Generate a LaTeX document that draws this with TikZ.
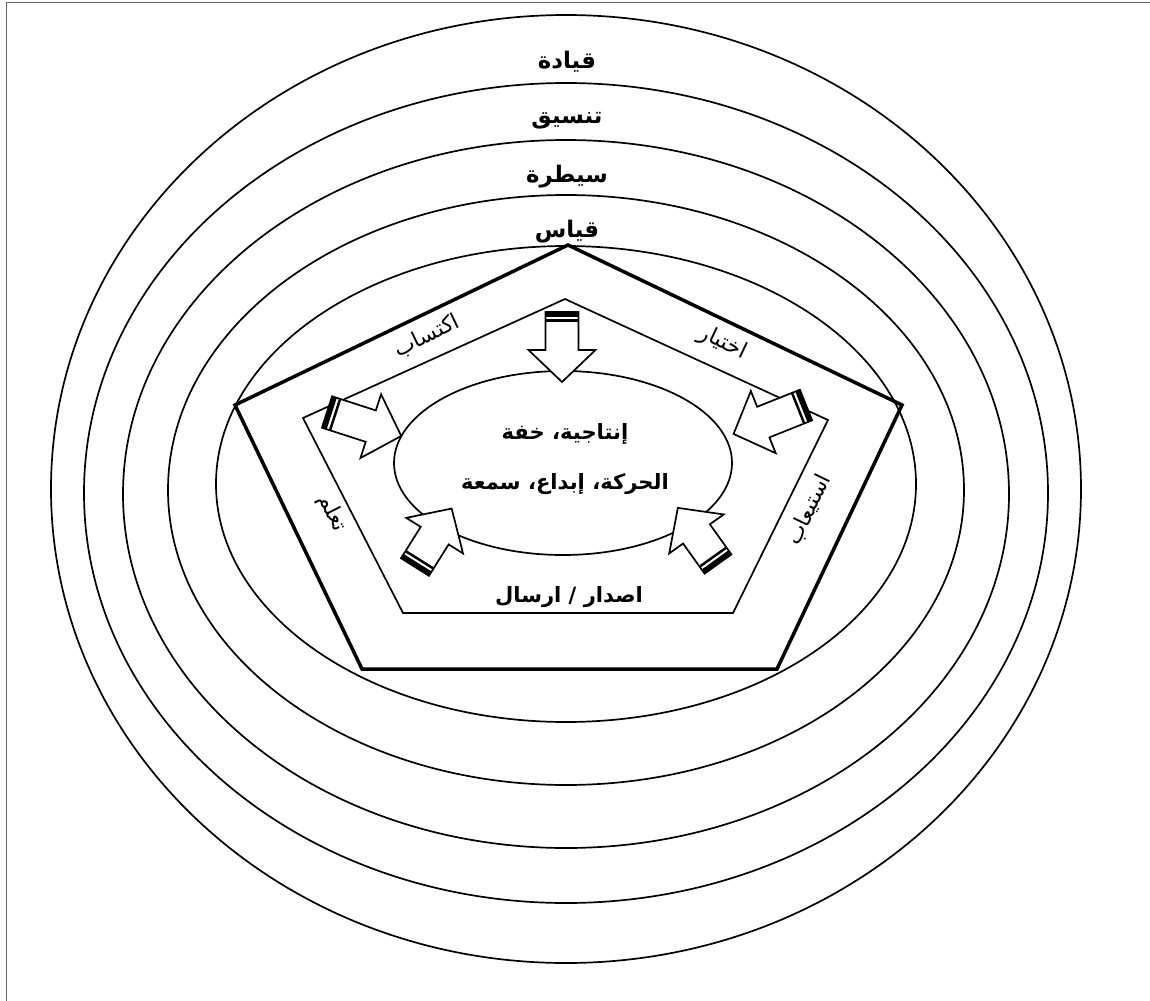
\documentclass[tikz,border=0pt]{standalone}
\usepackage{fontspec}
\newfontfamily\arabicfont[Script=Arabic]{DejaVu Sans}
\TeXXeTstate=1
\colorlet{ringcolor}{black}
\colorlet{framecolor}{black!60}
\tikzset{
    ringline/.style={draw=ringcolor, line width=0.034cm},
    pentline/.style={draw=black, line width=0.07cm, line join=miter},
    arrowline/.style={draw=black, line width=0.034cm, line join=miter},
    ringlabel/.style={font=\arabicfont\bfseries\fontsize{13}{15}\selectfont, inner sep=0pt},
    corelabel/.style={font=\arabicfont\bfseries\fontsize{12}{14}\selectfont, inner sep=0pt},
    sidelabel/.style={font=\arabicfont\fontsize{12.5}{14}\selectfont, inner sep=0pt},
}
\newcommand{\blockarrow}[3]{%
    \begin{scope}[shift={#1}, rotate=#2]
        \draw[arrowline, fill=white] (0,-16.5) -- (#3,-16.5) -- (#3,-33.5) -- (#3+32,0) -- (#3,33.5) -- (#3,16.5) -- (0,16.5) -- cycle;
        \fill (0,-16.5) rectangle (5,16.5);
        \draw[line width=0.05cm] (8.5,-16.5) -- (8.5,16.5);
    \end{scope}
}

\begin{document}
\begin{tikzpicture}[x=0.02cm, y=-0.02cm]
    \useasboundingbox (0,0) rectangle (1150,1001);
    % --- page frame (only left and top edges show) ---
    \draw[framecolor, line width=0.02cm] (6.5,1001) -- (6.5,2.5) -- (1150,2.5);
    % --- concentric rings ---
    \foreach \rx/\ry/\cy in {515/474/489, 482/410/493, 443/354/494, 398/295/490, 350/238/484} {
            \draw[ringline] (566,\cy) ellipse [x radius=\rx, y radius=\ry];
        }
    \node[ringlabel] (lead) at (567,62) {\beginR قيادة\endR};
    \node[ringlabel] (coord) at (567,121) {\beginR تنسيق\endR};
    \node[ringlabel] (ctrl) at (567,177) {\beginR سيطرة\endR};
    \node[ringlabel] (meas) at (567,232) {\beginR قياس\endR};
    % --- pentagons ---
    \draw[pentline] (568,245) -- (902,405) -- (777,669) -- (362,669) -- (235,405) -- cycle;
    \draw[ringline, line join=miter] (565,299) -- (828,420) -- (733,613) -- (403,613) -- (303,418) -- cycle;
    \node[sidelabel, rotate=25.7] (acq) at (427,336) {\beginR اكتساب\endR};
    \node[sidelabel, rotate=-25.5] (sel) at (723,343) {\beginR اختيار\endR};
    \node[sidelabel, rotate=64] (asm) at (809,510) {\beginR استيعاب\endR};
    \node[sidelabel, rotate=-63] (lrn) at (332,513) {\beginR تعلم\endR};
    \node[corelabel] (send) at (569,597) {\beginR اصدار / ارسال\endR};
    % --- core ellipse ---
    \draw[ringline] (563,463) ellipse [x radius=169, y radius=92];
    \node[corelabel] (core1) at (565,434) {\beginR إنتاجية، خفة\endR};
    \node[corelabel] (core2) at (565,484) {\beginR الحركة، إبداع، سمعة\endR};
    % --- block arrows pointing at the core ---
    \blockarrow{(562,312)}{-90}{38}
    \blockarrow{(327,412)}{-17.9}{46}
    \blockarrow{(806,405)}{-158.2}{46}
    \blockarrow{(415,567)}{57.9}{37}
    \blockarrow{(718,564)}{125.6}{37}
\end{tikzpicture}
\end{document}
